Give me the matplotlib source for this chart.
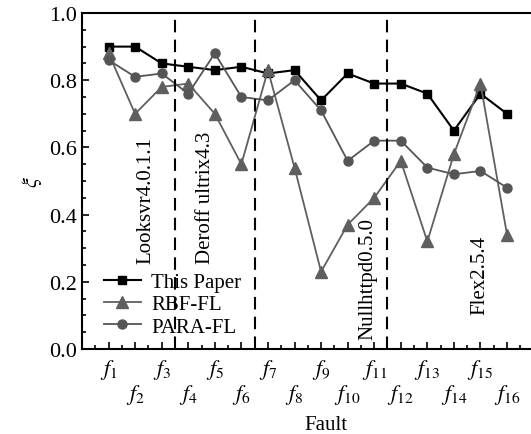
import matplotlib.pyplot as plt
import matplotlib.ticker as ticker

plt.rcParams['font.family'] = ['Liberation Serif', 'DejaVu Serif']
plt.rcParams['mathtext.fontset'] = 'stix'

# data
faults = list(range(1, 17))
this_paper = [0.90, 0.90, 0.85, 0.84, 0.83, 0.84, 0.82, 0.83, 0.74, 0.82, 0.79, 0.79, 0.76, 0.65, 0.76, 0.70]
rbf_fl = [0.88, 0.70, 0.78, 0.79, 0.70, 0.55, 0.83, 0.54, 0.23, 0.37, 0.45, 0.56, 0.32, 0.58, 0.79, 0.34]
para_fl = [0.86, 0.81, 0.82, 0.76, 0.88, 0.75, 0.74, 0.80, 0.71, 0.56, 0.62, 0.62, 0.54, 0.52, 0.53, 0.48]
fault_labels = ['$f_{%d}$' % i for i in faults]

separators = [3.5, 6.5, 11.5]
programs = ['Looksvr4.0.1.1', 'Deroff ultrix4.3', 'Nullhttpd0.5.0', 'Flex2.5.4']
prog_x = [2.39, 4.65, 10.77, 14.99]
prog_y = [0.255, 0.255, 0.03, 0.105]

fig = plt.figure(figsize=(5.31, 4.35), dpi=100)
ax = fig.add_axes([0.1544, 0.1954, 0.8505, 0.7724])

ax.plot(faults, this_paper, color='black', marker='s', markersize=6, lw=1.5, label='This Paper')
ax.plot(faults, rbf_fl, color='#5f5f5f', marker='^', markersize=8, lw=1.3, label='RBF-FL')
ax.plot(faults, para_fl, color='#555555', marker='o', markersize=6.5, lw=1.3, label='PARA-FL')

for xs in separators:
    ax.axvline(xs, color='black', lw=1.5, linestyle=(0, (6, 3.5)))

for name, x, y in zip(programs, prog_x, prog_y):
    ax.text(x, y, name, rotation=90, ha='center', va='bottom', fontsize=15)

ax.set_xlim(0, 17)
ax.set_ylim(0, 1.0)

ax.xaxis.set_major_locator(ticker.FixedLocator(faults))
ax.xaxis.set_minor_locator(ticker.MultipleLocator(0.5))
ax.set_xticklabels(fault_labels)
ax.yaxis.set_major_locator(ticker.MultipleLocator(0.2))
ax.yaxis.set_minor_locator(ticker.MultipleLocator(0.05))
ax.yaxis.set_major_formatter(ticker.FormatStrFormatter('%.1f'))

ax.tick_params(axis='both', which='both', direction='in', width=1.2)
ax.tick_params(axis='both', which='major', length=5, labelsize=16)
ax.tick_params(axis='both', which='minor', length=3)
ax.tick_params(axis='x', which='major', pad=6)
for t in ax.xaxis.get_major_ticks()[1::2]:
    t.set_pad(24)

for s in ax.spines.values():
    s.set_linewidth(1.5)

ax.set_xlabel('Fault', fontsize=15)
ax.xaxis.set_label_coords(0.54, -0.195)
ax.set_ylabel(r'$\xi$', fontsize=16)
ax.yaxis.set_label_coords(-0.085, 0.5)

ax.legend(loc='lower left', bbox_to_anchor=(0.02, 0.0), frameon=False, fontsize=15,
          handlelength=1.8, handletextpad=0.5, labelspacing=0.12, borderaxespad=0.2)

plt.savefig('out.png', dpi=100)
